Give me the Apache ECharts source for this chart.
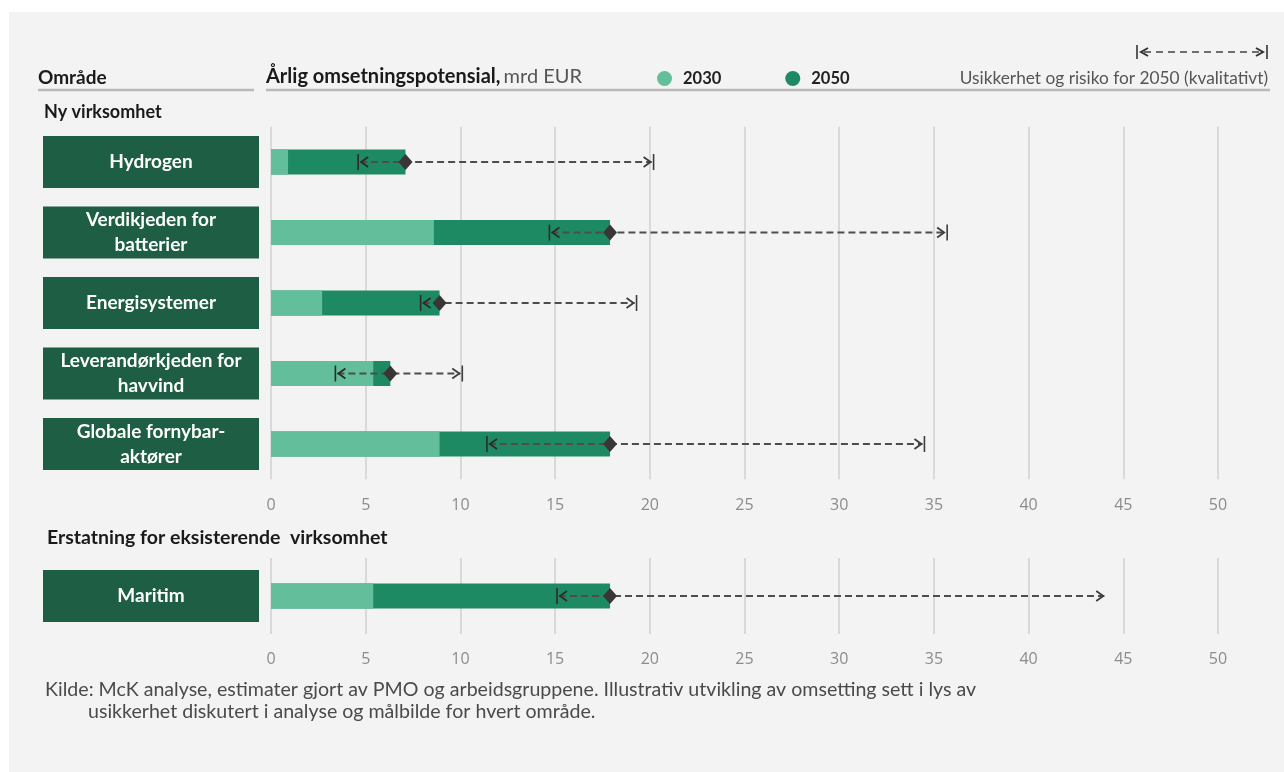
<!DOCTYPE html>
<html>
<head>
<meta charset="utf-8">
<script src="https://cdn.jsdelivr.net/npm/echarts@6/dist/echarts.min.js"></script>
<style>
  html, body { margin: 0; padding: 0; background: #ffffff; }
  #panel { position: absolute; left: 9px; top: 12px; width: 1275px; height: 760px; background: #f3f3f3; }
  #chart { position: absolute; left: 0; top: 0; width: 1284px; height: 772px; }
</style>
</head>
<body>
<div id="panel"></div>
<div id="chart"></div>
<script>
// New business areas (top panel)
const newAreas = ['Hydrogen', 'Verdikjeden for\nbatterier', 'Energisystemer', 'Leverandørkjeden for\nhavvind', 'Globale fornybar-\naktører'];
const new2030 = [0.9, 8.6, 2.7, 5.4, 8.9];
const new2050 = [7.1, 17.9, 8.9, 6.3, 17.9];
const newLow = [4.6, 14.7, 7.9, 3.4, 11.4];
const newHigh = [20.2, 35.7, 19.3, 10.1, 34.5];
const newHighCapped = [true, true, true, true, true];

// Replacement of existing business (bottom panel)
const oldAreas = ['Maritim'];
const old2030 = [5.4];
const old2050 = [17.9];
const oldLow = [15.1];
const oldHigh = [44.1];
const oldHighCapped = [false];

// x-axis ticks
const xMin = 0, xMax = 50, xStep = 5;

const LIGHT = '#63be9b';
const DARK = '#1e8a64';
const BOX = '#1d5e44';
const FONT = 'Lato, "Open Sans", sans-serif';

function rangeData(low, mid, high, capped) {
  return low.map((l, i) => [i, l, mid[i], high[i], capped[i] ? 1 : 0]);
}

// Uncertainty band: dashed line from low to high with caps, chevrons and a diamond at the 2050 value
function renderRange(params, api) {
  const cat = api.value(0);
  const pL = api.coord([api.value(1), cat]);
  const pM = api.coord([api.value(2), cat]);
  const pH = api.coord([api.value(3), cat]);
  const capped = api.value(4) === 1;
  const y = pL[1];
  const dark = '#2b2b2b';
  const children = [
    { type: 'line', shape: { x1: pL[0] + 2, y1: y, x2: pH[0] - 2, y2: y },
      style: { stroke: '#4d4d4d', lineWidth: 1.8, lineDash: [7, 4] } },
    { type: 'line', shape: { x1: pL[0], y1: y - 8, x2: pL[0], y2: y + 8 },
      style: { stroke: dark, lineWidth: 1.6 } },
    { type: 'polyline', shape: { points: [[pL[0] + 10, y - 5], [pL[0] + 3, y], [pL[0] + 10, y + 5]] },
      style: { stroke: dark, lineWidth: 1.8, fill: null } },
    { type: 'polyline', shape: { points: [[pH[0] - 10, y - 5], [pH[0] - 3, y], [pH[0] - 10, y + 5]] },
      style: { stroke: '#3d3d3d', lineWidth: 1.8, fill: null } }
  ];
  if (capped) {
    children.push({ type: 'line', shape: { x1: pH[0], y1: y - 8, x2: pH[0], y2: y + 8 },
      style: { stroke: '#3d3d3d', lineWidth: 1.6 } });
  }
  children.push({ type: 'polygon',
    shape: { points: [[pM[0] - 7, y], [pM[0], y - 8], [pM[0] + 7, y], [pM[0], y + 8]] },
    style: { fill: '#3a3636' } });
  return { type: 'group', children: children };
}

function xAxisFor(gridIndex, margin) {
  return {
    type: 'value', gridIndex: gridIndex, min: xMin, max: xMax, interval: xStep,
    axisLine: { show: false }, axisTick: { show: false },
    splitLine: { show: true, lineStyle: { color: '#d9d9d9', width: 2 } },
    axisLabel: { color: '#8c8c8c', fontSize: 16, fontFamily: '"Open Sans", sans-serif', margin: margin }
  };
}

function yAxisFor(gridIndex, cats, boxH) {
  return {
    type: 'category', gridIndex: gridIndex, data: cats, inverse: true,
    axisLine: { show: false }, axisTick: { show: false },
    axisLabel: {
      margin: 120, align: 'center', verticalAlign: 'middle',
      color: '#ffffff', fontWeight: 'bold', fontSize: 19, fontFamily: FONT,
      lineHeight: 25, backgroundColor: BOX, width: 216, height: boxH
    }
  };
}

function barPair(axisIdx, v2030, v2050) {
  return [
    { name: '2050', type: 'bar', xAxisIndex: axisIdx, yAxisIndex: axisIdx, data: v2050,
      barWidth: 25, barGap: '-100%', itemStyle: { color: DARK }, silent: true },
    { name: '2030', type: 'bar', xAxisIndex: axisIdx, yAxisIndex: axisIdx, data: v2030,
      barWidth: 25, barGap: '-100%', itemStyle: { color: LIGHT }, silent: true }
  ];
}

const chart = echarts.init(document.getElementById('chart'), null, { renderer: 'canvas' });

const option = {
  backgroundColor: 'transparent',
  animation: false,
  textStyle: { fontFamily: FONT },
  legend: {
    data: ['2030', '2050'], left: 652, top: 65, icon: 'circle',
    itemWidth: 15, itemHeight: 15, itemGap: 64, selectedMode: false,
    textStyle: { fontWeight: 'bold', fontSize: 16.5, color: '#222', fontFamily: FONT, padding: [0, 0, 0, 6] }
  },
  grid: [
    { left: 271, right: 66, top: 126.75, height: 352.5 },
    { left: 271, right: 66, top: 558, height: 76 }
  ],
  xAxis: [xAxisFor(0, 18), xAxisFor(1, 17)],
  yAxis: [yAxisFor(0, newAreas, 52), yAxisFor(1, oldAreas, 52)],
  series: [
    ...barPair(0, new2030, new2050),
    ...barPair(1, old2030, old2050),
    { type: 'custom', xAxisIndex: 0, yAxisIndex: 0, renderItem: renderRange,
      data: rangeData(newLow, new2050, newHigh, newHighCapped), z: 5, silent: true },
    { type: 'custom', xAxisIndex: 1, yAxisIndex: 1, renderItem: renderRange,
      data: rangeData(oldLow, old2050, oldHigh, oldHighCapped), z: 5, silent: true }
  ],
  graphic: [
    // Column headers
    { type: 'text', left: 38, top: 68, style: { text: 'Område', fontWeight: 'bold', fontSize: 19, fill: '#1a1a1a', fontFamily: FONT } },
    { type: 'text', left: 266, top: 67, style: {
        text: '{b|Årlig omsetningspotensial,} {n|mrd EUR}', fontFamily: FONT,
        rich: { b: { fontWeight: 'bold', fontSize: 20, fill: '#1a1a1a', fontFamily: FONT },
                n: { fontSize: 20, fill: '#555', fontFamily: FONT } } } },
    { type: 'text', right: 16, top: 70, style: { text: 'Usikkerhet og risiko for 2050 (kvalitativt)', fontSize: 17.3, fill: '#555', fontFamily: FONT } },
    { type: 'line', shape: { x1: 38, y1: 90, x2: 254, y2: 90 }, style: { stroke: '#b9b9b9', lineWidth: 2.5 } },
    { type: 'line', shape: { x1: 266, y1: 90, x2: 1270, y2: 90 }, style: { stroke: '#b9b9b9', lineWidth: 2.5 } },
    // Key for the uncertainty arrows
    { type: 'group', children: [
      { type: 'line', shape: { x1: 1137, y1: 45, x2: 1137, y2: 59 }, style: { stroke: '#333', lineWidth: 1.6 } },
      { type: 'polyline', shape: { points: [[1148, 48], [1141, 52], [1148, 56]] }, style: { stroke: '#333', lineWidth: 2, fill: null } },
      { type: 'line', shape: { x1: 1144, y1: 52, x2: 1262, y2: 52 }, style: { stroke: '#444', lineWidth: 1.6, lineDash: [7, 5] } },
      { type: 'polyline', shape: { points: [[1256, 48], [1263, 52], [1256, 56]] }, style: { stroke: '#333', lineWidth: 2, fill: null } },
      { type: 'line', shape: { x1: 1267, y1: 45, x2: 1267, y2: 59 }, style: { stroke: '#333', lineWidth: 1.6 } }
    ] },
    // Section headings
    { type: 'text', left: 44, top: 103, style: { text: 'Ny virksomhet', fontWeight: 'bold', fontSize: 18, fill: '#1a1a1a', fontFamily: FONT } },
    { type: 'text', left: 47, top: 528, style: { text: 'Erstatning for eksisterende  virksomhet', fontWeight: 'bold', fontSize: 19.5, fill: '#1a1a1a', fontFamily: FONT } },
    // Source note
    { type: 'text', left: 45, top: 680, style: { text: 'Kilde: McK analyse, estimater gjort av PMO og arbeidsgruppene. Illustrativ utvikling av omsetting sett i lys av', fontSize: 19.6, fill: '#4a4a4a', fontFamily: FONT } },
    { type: 'text', left: 88, top: 702, style: { text: 'usikkerhet diskutert i analyse og målbilde for hvert område.', fontSize: 19.6, fill: '#4a4a4a', fontFamily: FONT } }
  ]
};

chart.setOption(option);
</script>
</body>
</html>
